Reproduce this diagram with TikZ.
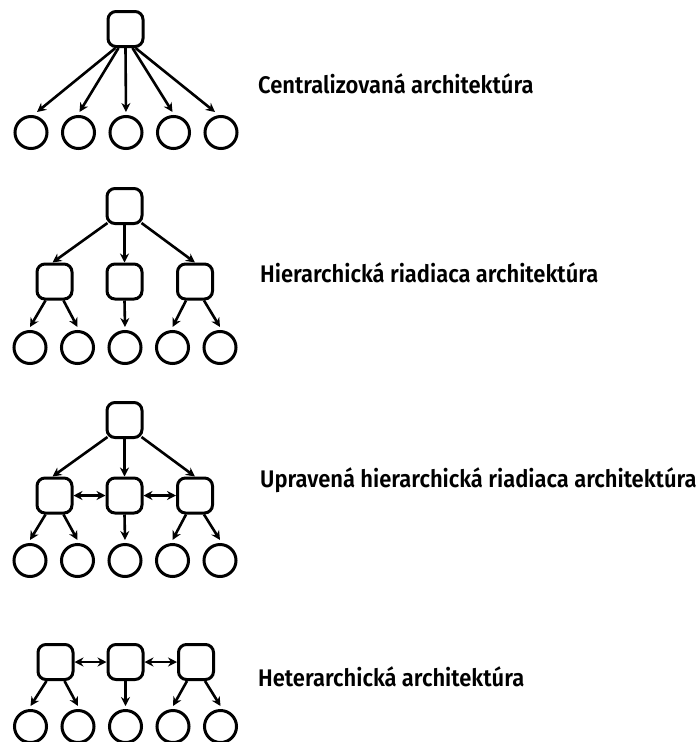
\documentclass[tikz,border=0pt]{standalone}
\usepackage{tikz}
\usepackage{fontspec}
\setmainfont[FakeStretch=0.915,BoldFont={Fira Sans SemiBold}]{Fira Sans}
\usetikzlibrary{arrows.meta}

\begin{document}
\begin{tikzpicture}[x=1pt,y=1pt,
	box/.style={draw,line width=3pt,rounded corners=8pt,minimum size=35pt,inner sep=0pt},
	leaf/.style={draw,circle,line width=3pt,minimum size=32pt,inner sep=0pt},
	arr/.style={line width=2.6pt,-{Stealth[length=9pt,width=9pt]}},
	darr/.style={line width=2.6pt,{Stealth[length=9pt,width=9pt]}-{Stealth[length=9pt,width=9pt]}},
	archname/.style={anchor=base west,inner sep=0pt,font=\bfseries\fontsize{24}{27}\selectfont}]

	\useasboundingbox (0,0) rectangle (699,-742);

	\node[box] (t1) at (125.5,-29) {};
	\foreach \i in {1,...,5}
	{
		\node[leaf] (c1-\i) at (-16.5+47.5*\i,-132.5) {};
	}
	\foreach \i/\s/\e in {1/-10/6,2/-7/1,3/0/0,4/7/-1,5/10/-6}
	{
		\draw[arr] ([xshift=\s pt]t1.south) -- ([xshift=\e pt,yshift=3pt]c1-\i.north);
	}
	\node[archname] (n1) at (258,-93) {Centralizovaná architektúra};

	\node[box] (t2) at (124.5,-206) {};
	\foreach \i/\x in {1/54.5,2/124.5,3/195}
	{
		\node[box] (m2-\i) at (\x,-281.5) {};
	}
	\foreach \i in {1,...,5}
	{
		\node[leaf] (c2-\i) at (-17.5+47.5*\i,-347.5) {};
	}
	\draw[arr] ([shift={(2,2)}]t2.south west) -- ([xshift=-2pt]m2-1.north);
	\draw[arr] (t2.south) -- (m2-2.north);
	\draw[arr] ([shift={(-2,2)}]t2.south east) -- (m2-3.north);
	\foreach \m/\a/\b in {1/1/2,3/4/5}
	{
		\draw[arr] ([xshift=-9pt]m2-\m.south) -- ([yshift=3pt]c2-\a.north);
		\draw[arr] ([xshift=9pt]m2-\m.south) -- ([yshift=3pt]c2-\b.north);
	}
	\draw[arr] (m2-2.south) -- ([yshift=3pt]c2-3.north);
	\node[archname] (n2) at (260,-282) {Hierarchická riadiaca architektúra};

	\node[box] (t3) at (124.5,-420) {};
	\foreach \i/\x in {1/54.5,2/124.5,3/195}
	{
		\node[box] (m3-\i) at (\x,-495.5) {};
	}
	\foreach \i in {1,...,5}
	{
		\node[leaf] (c3-\i) at (-17.5+47.5*\i,-560.5) {};
	}
	\draw[arr] ([shift={(2,2)}]t3.south west) -- ([xshift=-2pt]m3-1.north);
	\draw[arr] (t3.south) -- (m3-2.north);
	\draw[arr] ([shift={(-2,2)}]t3.south east) -- (m3-3.north);
	\foreach \m/\a/\b in {1/1/2,3/4/5}
	{
		\draw[arr] ([xshift=-9pt]m3-\m.south) -- ([yshift=3pt]c3-\a.north);
		\draw[arr] ([xshift=9pt]m3-\m.south) -- ([yshift=3pt]c3-\b.north);
	}
	\draw[arr] (m3-2.south) -- ([yshift=3pt]c3-3.north);
	\draw[darr] (m3-1) -- (m3-2);
	\draw[darr] (m3-2) -- (m3-3);
	\node[archname] (n3) at (260,-487) {Upravená hierarchická riadiaca architektúra};

	\foreach \i/\x in {1/55.5,2/125.5,3/196}
	{
		\node[box] (m4-\i) at (\x,-662) {};
	}
	\foreach \i in {1,...,5}
	{
		\node[leaf] (c4-\i) at (-17+47.5*\i,-726.5) {};
	}
	\foreach \m/\a/\b in {1/1/2,3/4/5}
	{
		\draw[arr] ([xshift=-9pt]m4-\m.south) -- ([yshift=3pt]c4-\a.north);
		\draw[arr] ([xshift=9pt]m4-\m.south) -- ([yshift=3pt]c4-\b.north);
	}
	\draw[arr] (m4-2.south) -- ([yshift=3pt]c4-3.north);
	\draw[darr] (m4-1) -- (m4-2);
	\draw[darr] (m4-2) -- (m4-3);
	\node[archname] (n4) at (258,-686) {Heterarchická architektúra};

\end{tikzpicture}
\end{document}
